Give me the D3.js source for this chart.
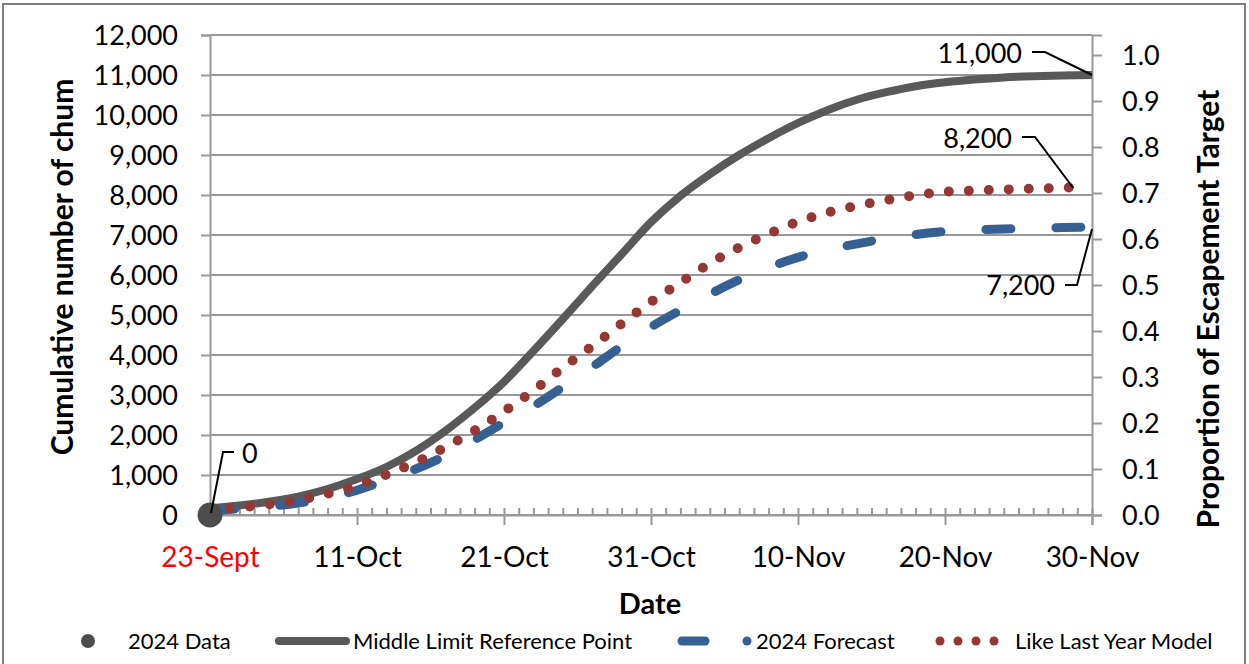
<!DOCTYPE html>
<html>
<head>
<meta charset="utf-8">
<script src="https://cdn.jsdelivr.net/npm/d3@7"></script>
<style>
body { margin: 0; background: #fff; }
text { font-family: Lato, "Open Sans", sans-serif; fill: #000; }
</style>
</head>
<body>
<svg id="chart" width="1249" height="664"></svg>
<script>
// Days counted from 1 Oct (0 = start of axis, 60 = 30 Nov)
var days = [0,2,4,6,8,10,12,14,16,18,20,22,24,26,28,30,32,34,36,38,40,42,44,46,48,50,52,54,56,58,60];
var middleLimit = [170,240,330,460,650,900,1200,1600,2100,2680,3330,4100,4900,5720,6520,7320,7980,8520,9000,9420,9800,10120,10380,10570,10720,10820,10890,10940,10970,10990,11000];
var forecast2024 = [100,160,215,300,430,620,880,1150,1480,1880,2310,2720,3200,3700,4220,4700,5120,5520,5880,6190,6440,6630,6780,6910,7010,7090,7130,7150,7170,7185,7200];
var lastYearDays = [0,2,4,6,8,10,12,14,16,18,20,22,24,26,28,30,32,34,36,38,40,42,44,46,48,50,52,54,56,58,59];
var likeLastYear = [120,185,265,370,530,730,1010,1320,1690,2110,2590,3110,3680,4220,4780,5330,5810,6290,6690,7030,7330,7560,7730,7870,7995,8080,8112,8136,8160,8180,8200];
var data2024Days = [0];
var data2024 = [0];

var xTickDays = [0,10,20,30,40,50,60];
var xTickLabels = ["23-Sept","11-Oct","21-Oct","31-Oct","10-Nov","20-Nov","30-Nov"];
var yTicks = [0,1000,2000,3000,4000,5000,6000,7000,8000,9000,10000,11000,12000];
var propTicks = [0,0.1,0.2,0.3,0.4,0.5,0.6,0.7,0.8,0.9,1.0];
var escapementTarget = 11500;

var legendLabels = ["2024 Data","Middle Limit Reference Point","2024 Forecast","Like Last Year Model"];

var colGray = "#595959", colBlue = "#376092", colRed = "#953735", colGrid = "#989898";

var margin = {top: 35, right: 157, bottom: 149, left: 210};
var width = 1249 - margin.left - margin.right;
var height = 664 - margin.top - margin.bottom;

var svg = d3.select("#chart");

// outer frame
svg.append("rect")
  .attr("x", 3).attr("y", 4).attr("width", 1242).attr("height", 700)
  .attr("fill", "none").attr("stroke", "#7f7f7f").attr("stroke-width", 2);

var chart = svg.append("g")
  .attr("transform", "translate(" + margin.left + "," + margin.top + ")");

var x = d3.scaleLinear().domain([0, 60]).range([0, width]);
var y = d3.scaleLinear().domain([0, 12000]).range([height, 0]);
var yR = d3.scaleLinear().domain([0, 12000 / escapementTarget]).range([height, 0]);

// horizontal gridlines
chart.append("g").selectAll("line")
  .data(yTicks)
  .enter().append("line")
  .attr("x1", 0).attr("x2", width)
  .attr("y1", function(d) { return y(d); })
  .attr("y2", function(d) { return y(d); })
  .attr("stroke", colGrid).attr("stroke-width", 2);

// left axis
var yaxis = d3.axisLeft(y).tickValues(yTicks).tickSize(9).tickPadding(23).tickFormat(d3.format(","));
var gy = chart.append("g").call(yaxis);

// right axis
var yaxisR = d3.axisRight(yR).tickValues(propTicks).tickSize(10).tickPadding(20).tickFormat(d3.format(".1f"));
var gyR = chart.append("g").attr("transform", "translate(" + width + ",0)").call(yaxisR);

// minor x ticks (daily, inside)
var minor = d3.axisBottom(x).tickValues(d3.range(0, 61)).tickSize(-7).tickFormat("");
var gmin = chart.append("g").attr("transform", "translate(0," + height + ")").call(minor);

// major x ticks
var xaxis = d3.axisBottom(x).tickValues(xTickDays).tickSize(10)
  .tickFormat(function(d, i) { return xTickLabels[i]; });
var gx = chart.append("g").attr("transform", "translate(0," + height + ")").call(xaxis);

[gy, gyR, gmin, gx].forEach(function(g) {
  g.select(".domain").attr("stroke", colGrid).attr("stroke-width", 2);
  g.selectAll(".tick line").attr("stroke", colGrid).attr("stroke-width", 2);
});
gmin.select(".domain").remove();
gy.selectAll("text").attr("font-size", 27).attr("dy", "0.36em").attr("font-family", "Lato");
gyR.selectAll("text").attr("font-size", 27).attr("dy", "0.36em").attr("font-family", "Lato");
gx.selectAll("text").attr("font-size", 28).attr("y", 52).attr("dy", null).attr("font-family", "Lato")
  .style("fill", function(d, i) { return i === 0 ? "#ff0000" : "#000"; });

// axis titles
svg.append("text")
  .attr("transform", "translate(73,267) rotate(-90)")
  .attr("text-anchor", "middle").attr("font-size", 30).attr("font-weight", "bold")
  .text("Cumulative number of chum");
svg.append("text")
  .attr("transform", "translate(1219,309) rotate(-90)")
  .attr("text-anchor", "middle").attr("font-size", 30).attr("font-weight", "bold")
  .text("Proportion of Escapement Target");
svg.append("text")
  .attr("x", 650).attr("y", 614)
  .attr("text-anchor", "middle").attr("font-size", 29).attr("font-weight", "bold")
  .text("Date");

// lines
var line = d3.line()
  .x(function(d) { return x(d[0]); })
  .y(function(d) { return y(d[1]); })
  .curve(d3.curveMonotoneX);

chart.append("path")
  .datum(d3.zip(days, middleLimit))
  .attr("d", line).attr("fill", "none")
  .attr("stroke", colGray).attr("stroke-width", 8);

chart.append("path")
  .datum(d3.zip(days, forecast2024))
  .attr("d", line).attr("fill", "none")
  .attr("stroke", colBlue).attr("stroke-width", 9)
  .attr("stroke-linecap", "round").attr("stroke-dasharray", "25 45");

chart.append("path")
  .datum(d3.zip(lastYearDays, likeLastYear))
  .attr("d", line).attr("fill", "none")
  .attr("stroke", colRed).attr("stroke-width", 10)
  .attr("stroke-linecap", "round").attr("stroke-dasharray", "0 20");

chart.selectAll(".dot")
  .data(d3.zip(data2024Days, data2024))
  .enter().append("circle")
  .attr("cx", function(d) { return x(d[0]); })
  .attr("cy", function(d) { return y(d[1]); })
  .attr("r", 12.5).attr("fill", "#4d4d4d");

// data labels with leader lines
function leader(pts) {
  chart.append("path")
    .attr("d", d3.line()(pts))
    .attr("fill", "none").attr("stroke", "#000").attr("stroke-width", 2);
}
function label(px, py, anchor, txt) {
  chart.append("text")
    .attr("x", px).attr("y", py).attr("dy", "0.36em")
    .attr("text-anchor", anchor).attr("font-size", 27)
    .text(txt);
}
leader([[x(0) + 1, y(0) - 2], [13, 417], [24, 417]]);
label(32, 418, "start", "0");
leader([[822, 17], [835, 17], [x(60), y(11000)]]);
label(812, 18, "end", "11,000");
leader([[812, 102], [825, 102], [x(59) - 4, y(8200) + 1]]);
label(802, 103, "end", "8,200");
leader([[855, 250], [867, 250], [x(60), y(7200) + 2]]);
label(845, 250, "end", "7,200");

// legend
var lg = svg.append("g");
var ly = 641;
lg.append("circle").attr("cx", 88).attr("cy", ly).attr("r", 7).attr("fill", "#4d4d4d");
lg.append("line").attr("x1", 279).attr("x2", 346).attr("y1", ly).attr("y2", ly)
  .attr("stroke", colGray).attr("stroke-width", 8).attr("stroke-linecap", "round");
lg.append("line").attr("x1", 682).attr("x2", 705).attr("y1", ly).attr("y2", ly)
  .attr("stroke", colBlue).attr("stroke-width", 9).attr("stroke-linecap", "round");
lg.append("circle").attr("cx", 747).attr("cy", ly).attr("r", 4.5).attr("fill", colBlue);
[940, 958, 976, 994].forEach(function(cx) {
  lg.append("circle").attr("cx", cx).attr("cy", ly).attr("r", 4.5).attr("fill", colRed);
});
var legendX = [128, 353, 756, 1015];
legendLabels.forEach(function(t, i) {
  lg.append("text").attr("x", legendX[i]).attr("y", ly).attr("dy", "0.36em")
    .attr("font-size", 22).text(t);
});
</script>
</body>
</html>
